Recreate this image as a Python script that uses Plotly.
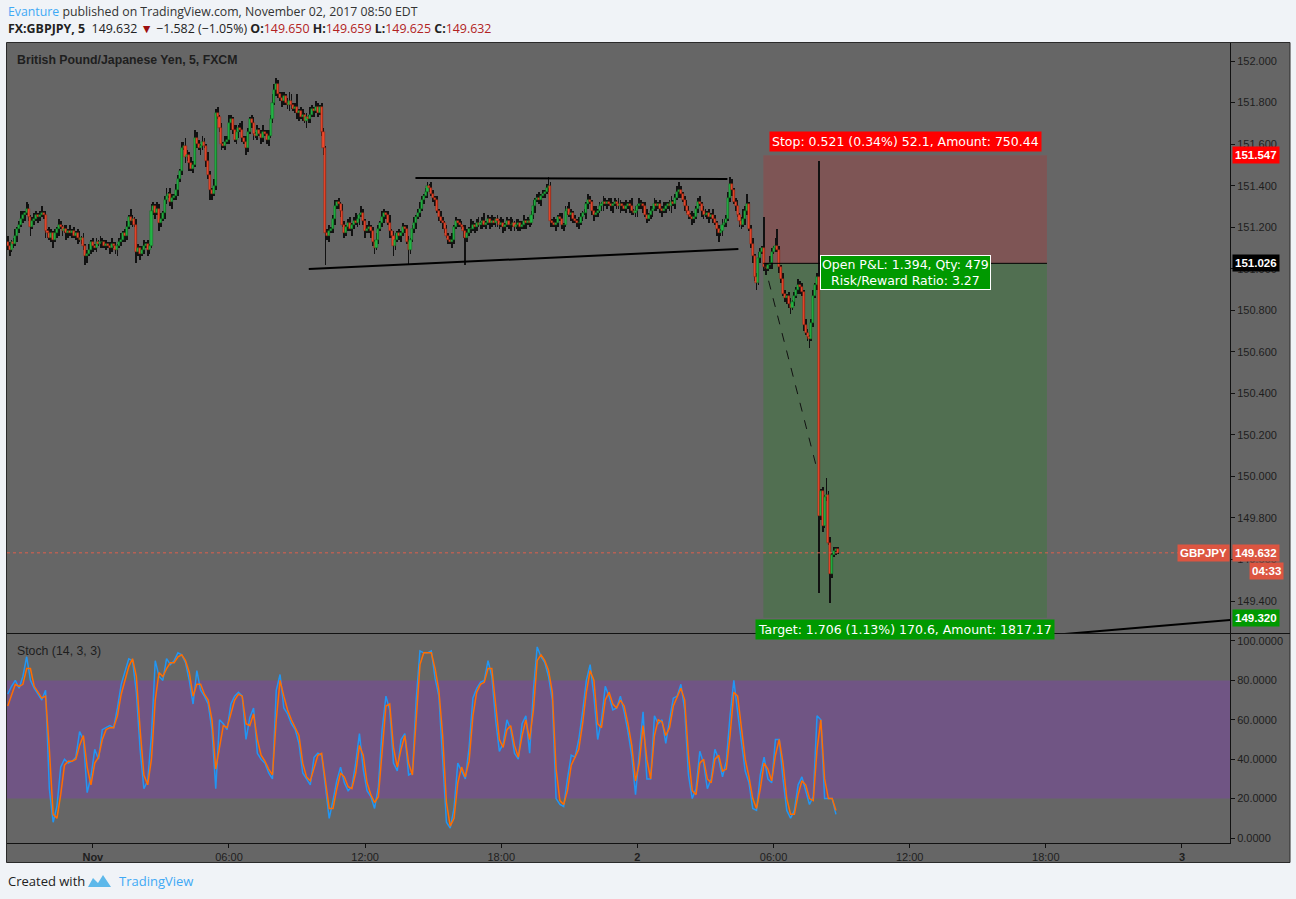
import plotly.graph_objects as go
import pandas as pd

page_bg = '#f0f3f7'
pane_bg = '#666666'
text_dark = '#1e1e1e'
tv_blue = '#3fa9f5'
axis_font = 'Liberation Sans, Arial, sans-serif'
ui_font = 'Open Sans, sans-serif'

W, H = 1296, 899
ML, MR, MT, MB = 7, 66, 43, 56


def px_x(px):
    return (px - ML) / (W - ML - MR)


def px_y(py):
    return (H - MB - py) / (H - MT - MB)


# ---------------- data: GBPJPY 5 min, FXCM ----------------
bar_times = pd.date_range('2017-10-31 20:15', periods=440, freq='5min')
first_open = 151.13

# closes in pips above 150.00
close_pips = [
    111, 109, 113, 112, 116, 119, 121, 124, 126, 127,
    129, 125, 120, 123, 124, 126, 125, 126, 127, 126,
    118, 117, 115, 117, 114, 117, 119, 121, 120, 118,
    119, 117, 118, 117, 118, 116, 117, 115, 114, 115,
    111, 106, 107, 109, 113, 111, 110, 113, 112, 113,
    113, 111, 112, 111, 110, 112, 111, 109, 111, 113,
    114, 117, 116, 120, 125, 123, 124, 121, 108, 110,
    107, 109, 111, 112, 109, 111, 128, 130, 127, 129,
    122, 124, 127, 133, 135, 136, 132, 134, 135, 138,
    143, 147, 158, 159, 154, 155, 151, 148, 150, 163,
    160, 158, 159, 161, 159, 152, 145, 138, 136, 140,
    175, 173, 168, 160, 159, 161, 162, 170, 172, 167,
    162, 166, 168, 167, 163, 161, 158, 166, 172, 170,
    165, 164, 167, 165, 163, 166, 165, 162, 164, 172,
    180, 186, 189, 184, 182, 181, 183, 180, 179, 181,
    179, 177, 178, 175, 176, 173, 174, 171, 173, 172,
    174, 177, 176, 178, 175, 178, 166, 158, 117, 116,
    118, 119, 124, 130, 132, 131, 128, 121, 117, 120,
    122, 119, 121, 123, 122, 124, 126, 127, 123, 118,
    119, 120, 118, 113, 110, 114, 119, 122, 125, 127,
    126, 122, 118, 116, 111, 114, 117, 116, 117, 120,
    119, 113, 109, 114, 119, 122, 125, 127, 129, 133,
    135, 137, 140, 139, 136, 134, 133, 128, 125, 123,
    122, 119, 116, 114, 113, 114, 120, 123, 122, 121,
    120, 118, 115, 117, 119, 119, 121, 120, 122, 121,
    122, 123, 121, 122, 124, 122, 123, 122, 124, 123,
    121, 122, 120, 121, 123, 121, 121, 122, 120, 121,
    122, 120, 121, 123, 122, 123, 122, 126, 130, 133,
    134, 133, 135, 136, 137, 139, 140, 123, 122, 121,
    122, 125, 124, 121, 121, 128, 129, 126, 127, 124,
    123, 122, 122, 125, 127, 127, 131, 133, 132, 128,
    126, 127, 128, 130, 131, 132, 131, 132, 131, 130,
    131, 132, 131, 130, 131, 130, 129, 130, 131, 130,
    128, 127, 128, 130, 131, 131, 130, 126, 124, 126,
    128, 129, 131, 130, 131, 129, 128, 129, 130, 131,
    130, 132, 131, 134, 137, 138, 136, 133, 130, 128,
    126, 125, 124, 125, 129, 132, 131, 128, 126, 126,
    127, 125, 126, 124, 122, 119, 117, 118, 121, 122,
    124, 134, 141, 138, 132, 130, 126, 123, 121, 124,
    128, 131, 119, 112, 106, 96, 93, 105, 108, 110,
    101, 100, 102, 103, 108, 110, 111, 109, 101, 95,
    88, 86, 87, 83, 81, 84, 87, 90, 92, 91,
    89, 73, 69, 67, 66, 74, 87, 92, 96, -19,
    -7, -24, -10, -9, -32, -47, -38, -36, -35, -36.8,
]

# wick lengths in pips above / below the body
wick_up = [
    3, 2, 1, 2, 3, 1, 2, 4, 2, 1, 3, 2, 1, 2, 3, 2, 1, 2, 3, 1,
    2, 1, 3, 2, 1, 2, 1, 3, 2, 1, 2, 2, 1, 3, 1, 2, 1, 2, 3, 1,
    2, 1, 2, 3, 1, 2, 1, 2, 1, 3, 2, 1, 2, 1, 2, 3, 1, 2, 1, 2,
    3, 1, 2, 3, 1, 4, 2, 1, 3, 2, 1, 2, 3, 1, 2, 1, 3, 2, 1, 3,
    2, 3, 1, 2, 4, 1, 3, 2, 1, 3, 2, 1, 3, 2, 4, 2, 1, 3, 2, 4,
    3, 2, 1, 3, 2, 1, 4, 2, 1, 3, 2, 3, 1, 2, 1, 3, 2, 4, 2, 1,
    2, 3, 1, 2, 4, 1, 3, 2, 1, 2, 3, 1, 2, 1, 2, 3, 1, 2, 3, 2,
    4, 3, 3, 2, 1, 3, 2, 1, 2, 4, 3, 1, 2, 6, 1, 2, 3, 1, 2, 1,
    4, 2, 1, 3, 2, 1, 2, 2, 1, 2, 3, 1, 2, 3, 1, 2, 1, 3, 2, 1,
    2, 3, 1, 2, 4, 2, 1, 3, 2, 1, 2, 3, 1, 2, 1, 3, 2, 1, 3, 2,
    1, 2, 4, 1, 2, 3, 1, 2, 1, 2, 1, 2, 3, 1, 2, 3, 1, 2, 3, 2,
    1, 2, 2, 1, 3, 2, 1, 2, 1, 3, 2, 1, 2, 1, 2, 3, 1, 2, 1, 2,
    2, 1, 3, 2, 1, 5, 2, 1, 2, 3, 1, 2, 4, 1, 2, 1, 3, 2, 1, 2,
    1, 3, 2, 1, 2, 1, 4, 2, 1, 3, 2, 1, 2, 3, 1, 2, 1, 2, 3, 1,
    2, 3, 1, 2, 1, 2, 4, 2, 1, 3, 2, 1, 2, 3, 1, 2, 1, 3, 2, 1,
    2, 1, 3, 2, 1, 2, 1, 3, 2, 1, 2, 3, 1, 2, 1, 3, 2, 1, 2, 3,
    1, 2, 1, 3, 2, 1, 2, 3, 1, 2, 4, 1, 2, 1, 3, 2, 1, 2, 3, 1,
    2, 1, 3, 2, 1, 2, 1, 3, 2, 1, 2, 3, 1, 2, 3, 4, 2, 1, 2, 3,
    2, 1, 3, 2, 1, 2, 3, 1, 2, 3, 1, 2, 1, 3, 2, 1, 2, 1, 3, 2,
    2, 3, 3, 2, 1, 2, 3, 1, 2, 5, 2, 5, 1, 2, 3, 1, 2, 3, 2, 1,
    15, 2, 1, 3, 2, 1, 4, 8, 2, 1, 3, 2, 1, 2, 3, 1, 2, 1, 3, 2,
    2, 1, 3, 2, 1, 2, 3, 1, 2, 56, 1, 2, 1, 8, 2, 3, 1, 2, 1, 0.9,
]
wick_dn = [
    2, 3, 1, 2, 1, 3, 2, 1, 2, 3, 1, 2, 4, 1, 2, 1, 3, 2, 1, 2,
    3, 2, 1, 2, 4, 1, 2, 3, 1, 2, 1, 3, 2, 1, 2, 1, 2, 3, 1, 2,
    2, 4, 3, 1, 2, 3, 1, 2, 1, 2, 3, 1, 2, 1, 3, 2, 1, 2, 3, 1,
    2, 1, 3, 2, 1, 2, 3, 1, 5, 2, 3, 1, 2, 1, 3, 2, 1, 2, 3, 1,
    4, 2, 1, 3, 2, 1, 2, 3, 1, 2, 3, 1, 2, 1, 3, 2, 4, 1, 2, 1,
    2, 1, 3, 2, 1, 3, 2, 5, 3, 1, 2, 1, 2, 3, 1, 2, 1, 2, 3, 2,
    1, 2, 3, 1, 2, 1, 3, 2, 1, 2, 3, 1, 2, 1, 3, 2, 1, 2, 3, 1,
    2, 1, 3, 2, 1, 3, 2, 1, 2, 3, 2, 1, 2, 3, 4, 1, 2, 1, 3, 2,
    2, 1, 3, 1, 2, 1, 2, 3, 15, 2, 3, 1, 2, 3, 1, 2, 3, 1, 2, 1,
    2, 1, 3, 2, 1, 2, 3, 1, 2, 3, 1, 2, 3, 2, 3, 1, 2, 1, 2, 3,
    2, 1, 3, 1, 5, 2, 1, 2, 3, 1, 2, 1, 7, 2, 1, 2, 3, 1, 2, 1,
    2, 1, 3, 2, 1, 2, 3, 1, 2, 1, 3, 2, 1, 2, 1, 3, 2, 1, 2, 1,
    1, 3, 13, 2, 1, 2, 1, 3, 2, 1, 2, 3, 1, 2, 1, 3, 2, 1, 2, 3,
    2, 1, 3, 2, 1, 2, 3, 1, 2, 1, 3, 2, 1, 2, 3, 1, 2, 1, 2, 3,
    1, 2, 3, 1, 2, 1, 2, 3, 2, 1, 3, 2, 1, 2, 3, 1, 2, 1, 3, 2,
    1, 2, 3, 1, 2, 1, 3, 2, 1, 2, 3, 1, 2, 1, 2, 3, 1, 2, 1, 2,
    3, 1, 2, 1, 3, 2, 1, 2, 1, 3, 2, 1, 2, 3, 1, 2, 3, 1, 2, 1,
    2, 3, 1, 2, 1, 2, 3, 1, 2, 1, 2, 3, 1, 2, 1, 3, 2, 1, 2, 1,
    2, 1, 3, 2, 1, 2, 1, 3, 2, 1, 2, 3, 1, 2, 1, 3, 4, 1, 2, 1,
    2, 1, 2, 3, 1, 2, 1, 3, 2, 1, 3, 2, 1, 2, 3, 2, 3, 1, 2, 1,
    2, 3, 1, 2, 3, 1, 2, 1, 3, 2, 1, 2, 3, 2, 3, 1, 2, 1, 2, 3,
    2, 3, 1, 2, 4, 1, 2, 1, 2, 37, 2, 3, 1, 2, 1, 14, 2, 1, 2, 0.7,
]

# Stoch (14, 3, 3), read every second bar
stoch_k = [
    73, 77, 80, 76, 82, 92, 80, 76, 73, 70,
    75, 25, 8, 16, 36, 40, 38, 39, 41, 54,
    50, 23, 31, 45, 40, 55, 56, 57, 56, 66,
    78, 84, 91, 90, 74, 45, 25, 29, 52, 90,
    82, 80, 91, 88, 90, 94, 93, 89, 80, 68,
    85, 75, 72, 68, 55, 25, 60, 58, 55, 68,
    72, 74, 72, 50, 61, 66, 43, 40, 38, 33,
    30, 75, 83, 66, 63, 58,
    55, 48, 33, 30, 27, 41, 43, 42, 25, 10,
    19, 29, 36, 28, 24, 26, 38, 53, 35, 24,
    21, 15, 26, 55, 72, 65, 38, 34, 50, 53,
    32, 33, 70, 95, 94, 94, 95, 81, 72, 42,
    8, 5, 15, 38, 34, 30, 46, 71, 76, 79,
    80, 90, 82, 60, 44, 48, 60, 55, 43, 40,
    58, 62, 43, 75, 97, 92, 89, 82, 70, 20,
    17, 16, 30, 42,
    41, 50, 64, 80, 88, 72, 50, 60, 77, 72,
    65, 66, 72, 64, 54, 42, 22, 45, 64, 30,
    30, 62, 58, 60, 48, 60, 71, 72, 78, 65,
    32, 20, 25, 44, 38, 25, 30, 45, 40, 31,
    39, 62, 80, 64, 49, 34, 28, 15, 14, 32,
    41, 30, 28, 50, 50, 30, 14, 10, 14, 27,
    31, 24, 17, 21, 62, 60, 20, 20, 20, 12,
]
stoch_d = [
    67, 72, 78, 77, 78, 86, 86, 77, 74, 71,
    72, 45, 12, 10, 22, 37, 39, 39, 40, 47,
    52, 36, 27, 38, 41, 50, 55, 56, 56, 62,
    73, 80, 87, 91, 82, 55, 32, 27, 40, 70,
    84, 82, 86, 89, 89, 92, 93, 90, 84, 72,
    78, 78, 73, 70, 60, 35, 45, 57, 56, 63,
    70, 73, 72, 58, 57, 63, 50, 42, 39, 35,
    32, 60, 80, 72, 65, 60,
    56, 52, 38, 31, 29, 36, 42, 43, 30, 15,
    15, 25, 33, 31, 26, 25, 33, 47, 42, 28,
    22, 18, 21, 43, 67, 68, 46, 36, 45, 52,
    38, 32, 58, 88, 94, 94, 94, 86, 75, 52,
    18, 6, 10, 28, 36, 31, 39, 62, 74, 78,
    79, 86, 86, 68, 50, 46, 55, 57, 47, 41,
    52, 60, 50, 65, 90, 93, 90, 85, 74, 35,
    19, 17, 24, 37,
    41, 45, 58, 74, 85, 80, 58, 56, 70, 74,
    68, 66, 70, 67, 58, 47, 29, 38, 57, 40,
    30, 52, 60, 59, 52, 56, 67, 72, 76, 70,
    42, 24, 22, 38, 40, 30, 28, 40, 42, 34,
    35, 52, 74, 72, 55, 40, 31, 20, 15, 25,
    38, 35, 29, 42, 50, 38, 20, 12, 12, 22,
    29, 27, 20, 19, 45, 60, 30, 20, 20, 14,
]
stoch_times = bar_times[::2]

# drawings on the chart
top_line_t = ['2017-11-01 14:13', '2017-11-02 03:58']
top_line_p = [151.437, 151.432]
low_line_t = ['2017-11-01 09:31', '2017-11-02 04:27']
low_line_p = [150.999, 151.095]
far_line_t = ['2017-11-02 16:00', '2017-11-03 03:00']
far_line_p = [149.215, 149.317]

pos_start, pos_end = '2017-11-02 05:33', '2017-11-02 18:03'
pos_mid = '2017-11-02 11:48'
entry_price, stop_price, target_price = 151.026, 151.547, 149.320
path_t = ['2017-11-02 05:35', '2017-11-02 07:57']
path_p = [151.026, 150.02]
last_price = 149.632

price_ticks = [149.4, 149.6, 149.8, 150.0, 150.2, 150.4, 150.6, 150.8,
               151.0, 151.2, 151.4, 151.6, 151.8, 152.0]
stoch_ticks = [0, 20, 40, 60, 80, 100]
time_ticks = ['2017-11-01 00:00', '2017-11-01 06:00', '2017-11-01 12:00',
              '2017-11-01 18:00', '2017-11-02 00:00', '2017-11-02 06:00',
              '2017-11-02 12:00', '2017-11-02 18:00', '2017-11-03 00:00']
time_labels = ['<b>Nov</b>', '06:00', '12:00', '18:00', '<b>2</b>',
               '06:00', '12:00', '18:00', '<b>3</b>']

# ---------------- build OHLC ----------------
close = [150 + p / 100 for p in close_pips]
open_ = [first_open] + close[:-1]
high = [max(o, c) + u / 100 for o, c, u in zip(open_, close, wick_up)]
low = [min(o, c) - d / 100 for o, c, d in zip(open_, close, wick_dn)]
rising = [c >= o for o, c in zip(open_, close)]

# wicks and bodies both as bars so the bodies sit on top of the wicks
wicks = go.Bar(
    x=bar_times, base=low, y=[h - l for h, l in zip(high, low)],
    width=120000, marker=dict(color='#111111', line=dict(width=0)),
    hoverinfo='skip', showlegend=False, xaxis='x', yaxis='y')

bodies = go.Bar(
    x=bar_times,
    base=[min(o, c) for o, c in zip(open_, close)],
    y=[abs(c - o) for o, c in zip(open_, close)],
    width=330000,
    marker=dict(color=['#22b445' if r else '#f04a2c' for r in rising],
                line=dict(color=['#176b24' if r else '#8a2414' for r in rising], width=0.5)),
    showlegend=False, xaxis='x', yaxis='y')

k_line = go.Scatter(x=stoch_times, y=stoch_k, mode='lines',
                    line=dict(color='#2196f3', width=1.5),
                    showlegend=False, xaxis='x', yaxis='y2')
d_line = go.Scatter(x=stoch_times, y=stoch_d, mode='lines',
                    line=dict(color='#ff6d00', width=1.5),
                    showlegend=False, xaxis='x', yaxis='y2')

fig = go.Figure(data=[wicks, bodies, k_line, d_line])

tick_font = dict(family=axis_font, size=11, color=text_dark)
fig.update_layout(
    width=W, height=H,
    margin=dict(l=ML, r=MR, t=MT, b=MB, pad=0),
    paper_bgcolor=page_bg, plot_bgcolor=pane_bg,
    showlegend=False, barmode='overlay', bargap=0,
    xaxis=dict(type='date', domain=[0, 1], anchor='y2',
               range=['2017-10-31 20:13', '2017-11-03 02:07'],
               tickvals=time_ticks, ticktext=time_labels,
               ticks='outside', ticklen=4, tickcolor='#111',
               showline=True, linecolor='#111', linewidth=1,
               showgrid=False, zeroline=False, tickfont=tick_font,
               rangeslider=dict(visible=False)),
    yaxis=dict(domain=[0.2625, 1], anchor='x', side='right',
               range=[149.246, 152.087], tickvals=price_ticks,
               tickformat='.3f', ticks='outside', ticklen=4, tickcolor='#111',
               showline=True, linecolor='#111', linewidth=1,
               showgrid=False, zeroline=False, tickfont=tick_font),
    yaxis2=dict(domain=[0, 0.26125], anchor='x', side='right',
                range=[-2.54, 103.55], tickvals=stoch_ticks,
                tickformat='.4f', ticks='outside', ticklen=4, tickcolor='#111',
                showline=True, linecolor='#111', linewidth=1,
                showgrid=False, zeroline=False, tickfont=tick_font),
)

shapes = [
    # chart container
    dict(type='rect', xref='paper', yref='paper', layer='below',
         x0=px_x(6.5), x1=px_x(1290), y0=px_y(862.5), y1=px_y(42.5),
         fillcolor=pane_bg, line=dict(color='#2a2a2a', width=1)),
    # pane separator
    dict(type='line', xref='paper', yref='paper', x0=0, x1=px_x(1290),
         y0=px_y(633.5), y1=px_y(633.5), line=dict(color='#111', width=1)),
    # overbought / oversold band
    dict(type='rect', xref='paper', yref='y2', x0=0, x1=1, y0=20, y1=80,
         fillcolor='rgba(153,21,255,0.2)', line=dict(width=0), layer='below'),
    # position tool
    dict(type='rect', xref='x', yref='y', x0=pos_start, x1=pos_end,
         y0=entry_price, y1=stop_price, fillcolor='rgba(255,0,0,0.16)',
         line=dict(width=0), layer='below'),
    dict(type='rect', xref='x', yref='y', x0=pos_start, x1=pos_end,
         y0=target_price, y1=entry_price, fillcolor='rgba(0,152,0,0.2)',
         line=dict(width=0), layer='below'),
    dict(type='line', xref='x', yref='y', x0=pos_start, x1=pos_end,
         y0=entry_price, y1=entry_price, line=dict(color='#000', width=1)),
    dict(type='line', xref='x', yref='y', x0=path_t[0], x1=path_t[1],
         y0=path_p[0], y1=path_p[1], line=dict(color='#111', width=1, dash='dash')),
    # trend lines
    dict(type='line', xref='x', yref='y', x0=top_line_t[0], x1=top_line_t[1],
         y0=top_line_p[0], y1=top_line_p[1], line=dict(color='#000', width=2)),
    dict(type='line', xref='x', yref='y', x0=low_line_t[0], x1=low_line_t[1],
         y0=low_line_p[0], y1=low_line_p[1], line=dict(color='#000', width=2)),
    dict(type='line', xref='x', yref='y', x0=far_line_t[0], x1=far_line_t[1],
         y0=far_line_p[0], y1=far_line_p[1], line=dict(color='#000', width=2)),
    # last price line
    dict(type='line', xref='paper', yref='y', x0=0, x1=1,
         y0=last_price, y1=last_price, line=dict(color='#e0604c', width=1, dash='dot')),
    # TradingView logo
    dict(type='path', xref='paper', yref='paper',
         path='M {} {} L {} {} L {} {} L {} {} L {} {} Z'.format(
             px_x(88), px_y(887), px_x(93), px_y(878), px_x(98), px_y(883),
             px_x(103), px_y(875), px_x(111), px_y(887)),
         fillcolor='#5db8ea', line=dict(width=0)),
]

label_font = dict(family=axis_font, size=11.5, color='white')
pos_font = dict(family='DejaVu Sans, sans-serif', size=12.5, color='white')
red_tv = '#dc5541'

annotations = [
    dict(xref='paper', yref='paper', x=px_x(6), y=px_y(12), xanchor='left', yanchor='middle',
         text='<span style="color:%s">Evanture</span> published on TradingView.com, '
              'November 02, 2017 08:50 EDT' % tv_blue,
         font=dict(family=ui_font, size=12.3, color='#333')),
    dict(xref='paper', yref='paper', x=px_x(6), y=px_y(29), xanchor='left', yanchor='middle',
         text='<b>FX:GBPJPY, 5</b>  149.632 <span style="color:#9c0f0f">▼</span> '
              '−1.582 (−1.05%) <b>O:</b><span style="color:#b22222">149.650</span> '
              '<b>H:</b><span style="color:#b22222">149.659</span> '
              '<b>L:</b><span style="color:#b22222">149.625</span> '
              '<b>C:</b><span style="color:#b22222">149.632</span>',
         font=dict(family=ui_font, size=12.4, color='#222')),
    dict(xref='paper', yref='paper', x=px_x(15), y=px_y(60), xanchor='left', yanchor='middle',
         text='<b>British Pound/Japanese Yen, 5, FXCM</b>',
         font=dict(family=axis_font, size=12.3, color=text_dark)),
    dict(xref='paper', yref='paper', x=px_x(15), y=px_y(651), xanchor='left', yanchor='middle',
         text='Stoch (14, 3, 3)', font=dict(family=axis_font, size=12.3, color=text_dark)),
    dict(xref='paper', yref='paper', x=px_x(6), y=px_y(881), xanchor='left', yanchor='middle',
         text='Created with', font=dict(family=ui_font, size=13, color='#222')),
    dict(xref='paper', yref='paper', x=px_x(117), y=px_y(881), xanchor='left', yanchor='middle',
         text='TradingView', font=dict(family=ui_font, size=13, color=tv_blue)),
    # position tool labels
    dict(xref='x', yref='y', x=pos_mid, y=stop_price, yanchor='bottom', yshift=3,
         text='Stop: 0.521 (0.34%) 52.1, Amount: 750.44', bgcolor='#ff0000',
         borderpad=2, font=pos_font),
    dict(xref='x', yref='y', x=pos_mid, y=entry_price, yanchor='top', yshift=8,
         text='Open P&L: 1.394, Qty: 479<br>Risk/Reward Ratio: 3.27', bgcolor='#009900',
         bordercolor='white', borderwidth=1, borderpad=1, font=pos_font),
    dict(xref='x', yref='y', x=pos_mid, y=target_price, yanchor='top', yshift=-1,
         text='Target: 1.706 (1.13%) 170.6, Amount: 1817.17', bgcolor='#009900',
         borderpad=2, font=pos_font),
    # axis price labels
    dict(xref='paper', yref='y', x=px_x(1232), y=stop_price, xanchor='left',
         text='<b>151.547</b>', bgcolor='#ff0000', borderpad=2, font=label_font),
    dict(xref='paper', yref='y', x=px_x(1232), y=entry_price, xanchor='left',
         text='<b>151.026</b>', bgcolor='#000000', borderpad=2, font=label_font),
    dict(xref='paper', yref='y', x=px_x(1232), y=target_price, xanchor='left',
         text='<b>149.320</b>', bgcolor='#009900', borderpad=2, font=label_font),
    dict(xref='paper', yref='y', x=px_x(1232), y=last_price, xanchor='left',
         text='<b>149.632</b>', bgcolor=red_tv, borderpad=2, font=label_font),
    dict(xref='paper', yref='y', x=px_x(1230), y=last_price, xanchor='right',
         text='<b>GBPJPY</b>', bgcolor=red_tv, borderpad=2, font=label_font),
    dict(xref='paper', yref='y', x=px_x(1284), y=last_price, xanchor='right', yshift=-18,
         text='<b>04:33</b>', bgcolor=red_tv, borderpad=2, font=label_font),
]
for a in annotations:
    a['showarrow'] = False

fig.update_layout(shapes=shapes, annotations=annotations)
fig.write_html('out.html', config={'displayModeBar': False},
               post_script="document.body.style.margin = '0';")
